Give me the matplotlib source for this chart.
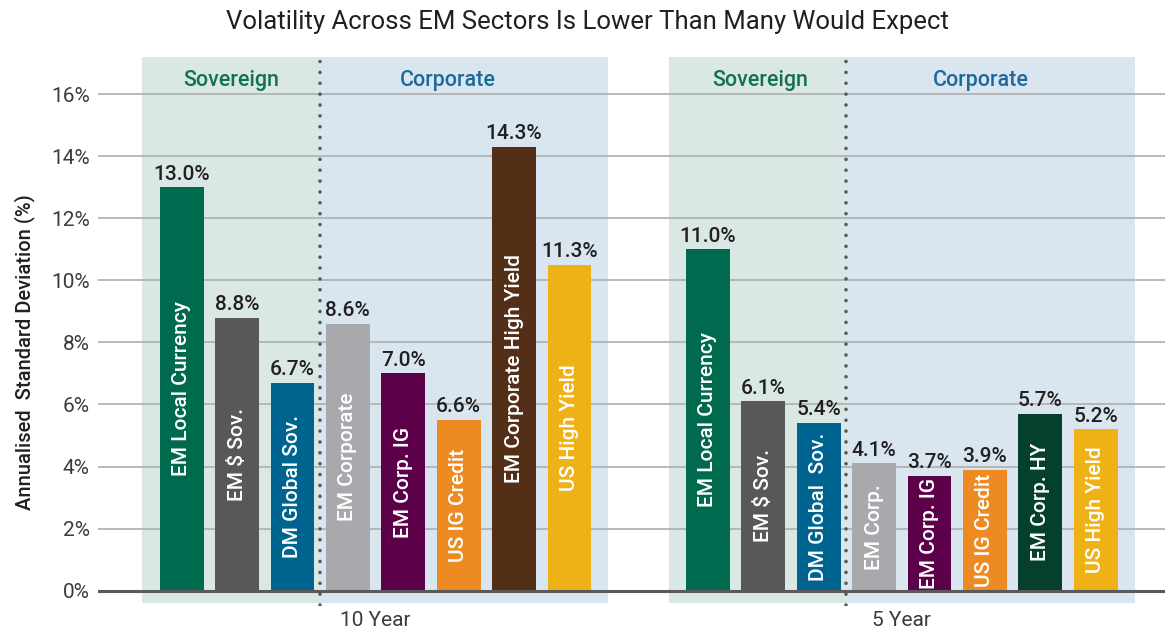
import numpy as np
import matplotlib.pyplot as plt
from matplotlib.patches import Rectangle

plt.rcParams['font.family'] = ['Roboto', 'DejaVu Sans']

# data
periods = ["10 Year", "5 Year"]
names_10y = ["EM Local Currency", "EM \\$ Sov.", "DM Global Sov.", "EM Corporate",
             "EM Corp. IG", "US IG Credit", "EM Corporate High Yield", "US High Yield"]
names_5y = ["EM Local Currency", "EM \\$ Sov.", "DM Global  Sov.", "EM Corp.",
            "EM Corp. IG", "US IG Credit", "EM Corp. HY", "US High Yield"]
vol_10y = [13.0, 8.8, 6.7, 8.6, 7.0, 5.5, 14.3, 10.5]
vol_5y = [11.0, 6.1, 5.4, 4.1, 3.7, 3.9, 5.7, 5.2]
labels_10y = ["13.0%", "8.8%", "6.7%", "8.6%", "7.0%", "6.6%", "14.3%", "11.3%"]
labels_5y = ["11.0%", "6.1%", "5.4%", "4.1%", "3.7%", "3.9%", "5.7%", "5.2%"]
yticks = [0, 2, 4, 6, 8, 10, 12, 14, 16]

# styling
colors_10y = ["#006a4e", "#58585a", "#006491", "#a7a9ac", "#5c0049", "#ee8a22", "#532f18", "#efb216"]
colors_5y = ["#006a4e", "#58585a", "#006491", "#a7a9ac", "#5c0049", "#ee8a22", "#053f2e", "#efb216"]
sov_bg = "#d9e8e4"
corp_bg = "#d9e5ef"
sov_txt = "#137152"
corp_txt = "#1d6a9a"
dark = "#231f20"

x10 = np.arange(len(vol_10y))
x5 = np.arange(len(vol_5y)) + 9.5
width = 0.79

fig = plt.figure(figsize=(11.68, 6.3), dpi=100)
ax = fig.add_axes([0.0839, 0.0378, 0.9135, 0.877])
ax.set_xlim(-1.51, 17.75)
ax.set_ylim(-0.5, 17.3)

# shaded sector panels
for x0, x1, c in [(-0.71, 2.5, sov_bg), (2.5, 7.7, corp_bg),
                  (8.8, 12.0, sov_bg), (12.0, 17.21, corp_bg)]:
    ax.add_patch(Rectangle((x0, -0.4), x1 - x0, 17.6, color=c, lw=0, zorder=0))

# gridlines
for t in yticks[1:]:
    ax.axhline(t, color="#b3b3b3", lw=1.3, zorder=1)
ax.axhline(0, color="#5a5a5c", lw=2.2, zorder=4)

# dotted separators
for xs in [2.5, 12.0]:
    ax.plot([xs, xs], [-0.45, 17.2], color="#58585a", lw=2.6,
            linestyle=(0, (0.01, 3)), dash_capstyle="round", zorder=3)

for xs, vals, labs, names, cols in [(x10, vol_10y, labels_10y, names_10y, colors_10y),
                                     (x5, vol_5y, labels_5y, names_5y, colors_5y)]:
    bars = ax.bar(xs, vals, width=width, color=cols, edgecolor="none", zorder=2)
    for b, lab, nm in zip(bars, labs, names):
        cx = b.get_x() + b.get_width() / 2
        h = b.get_height()
        ax.annotate(lab, (cx, h), xytext=(0, 5.5), textcoords="offset points",
                    ha="center", va="baseline", fontsize=15, color=dark,
                    fontweight="medium", zorder=5)
        ax.text(cx, h / 2, nm, rotation=90, ha="center", va="center",
                fontsize=15, color="white", fontweight="medium", zorder=5)

# sector titles
for xc, txt, c in [(0.9, "Sovereign", sov_txt), (4.8, "Corporate", corp_txt),
                   (10.45, "Sovereign", sov_txt), (14.43, "Corporate", corp_txt)]:
    ax.text(xc, 16.45, txt, ha="center", va="center", fontsize=15.5, color=c,
            fontweight="medium", zorder=5)

# period labels
for xc, p in zip([x10.mean(), x5.mean()], periods):
    ax.text(xc, -0.95, p, ha="center", va="center", fontsize=15,
            color="#3b3b3b", clip_on=False)

ax.set_yticks(yticks)
ax.set_yticklabels([f"{t}%" for t in yticks], fontsize=15, color="#3b3b3b")
ax.tick_params(axis="y", length=0, pad=6)
ax.set_xticks([])
for s in ax.spines.values():
    s.set_visible(False)

fig.text(25 / 1168, 1 - 352 / 630, "Annualised  Standard Deviation (%)", rotation=90,
         ha="center", va="center", fontsize=14.5, color=dark, fontweight="medium")
fig.text(0.503, 0.965, "Volatility Across EM Sectors Is Lower Than Many Would Expect",
         ha="center", va="center", fontsize=18.5, color=dark)

fig.savefig("out.png", dpi=100)
